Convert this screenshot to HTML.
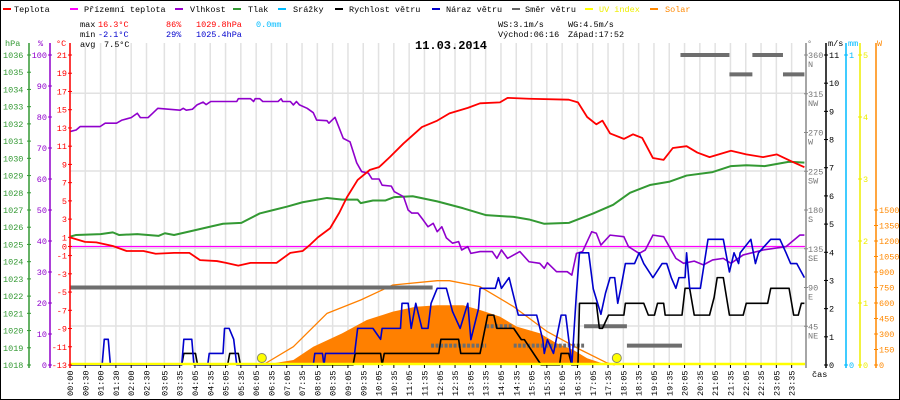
<!DOCTYPE html>
<html><head><meta charset="utf-8"><style>
html,body{margin:0;padding:0;background:#fff}
svg{display:block;font-family:"Liberation Mono",monospace;font-size:8.5px}
</style></head><body>
<svg id="c" width="900" height="400" viewBox="0 0 900 400">
<rect x="0.5" y="0.5" width="899" height="399" fill="#fff" stroke="#000"/>
<g id="grid"></g>
<g id="series"></g>
<g id="axes"></g>
<g>
 <rect x="3" y="8" width="8" height="2" fill="#f00"/><text x="14" y="12">Teplota</text>
 <rect x="70" y="8" width="8" height="2" fill="#f0f"/><text x="84" y="12">Přízemní teplota</text>
 <rect x="175" y="8" width="8" height="2" fill="#90c"/><text x="190" y="12">Vlhkost</text>
 <rect x="233" y="8" width="8" height="2" fill="#393"/><text x="248" y="12">Tlak</text>
 <rect x="278" y="8" width="8" height="2" fill="#0bf"/><text x="293" y="12">Srážky</text>
 <rect x="335" y="8" width="8" height="2" fill="#000"/><text x="349" y="12">Rychlost větru</text>
 <rect x="432" y="8" width="8" height="2" fill="#00c"/><text x="446" y="12">Náraz větru</text>
 <rect x="512" y="8" width="8" height="2" fill="#666"/><text x="525" y="12">Směr větru</text>
 <rect x="585" y="8" width="8" height="2" fill="#ff0"/><text x="599" y="12" fill="#ee0">UV index</text>
 <rect x="650" y="8" width="8" height="2" fill="#f80"/><text x="665" y="12" fill="#f80">Solar</text>
</g>
<g>
 <text x="80" y="27">max</text><text x="98" y="27" fill="#f00">16.3°C</text><text x="166" y="27" fill="#f00">86%</text><text x="196" y="27" fill="#f00">1029.8hPa</text><text x="256" y="27" fill="#0bf">0.0mm</text>
 <text x="80" y="37">min</text><text x="98" y="37" fill="#00c">-2.1°C</text><text x="166" y="37" fill="#00c">29%</text><text x="196" y="37" fill="#00c">1025.4hPa</text>
 <text x="80" y="47">avg</text><text x="104" y="47">7.5°C</text>
 <text x="498" y="27">WS:3.1m/s</text><text x="568" y="27">WG:4.5m/s</text>
 <text x="498" y="37">Východ:06:16</text><text x="568" y="37">Západ:17:52</text>
 <text x="415" y="49" font-size="12" font-weight="bold">11.03.2014</text>
</g>
</svg>
<script>
const tT=[0,0.49,0.86,1.4,1.85,2.4,2.8,3.4,3.9,4.25,4.8,5.1,5.5,5.9,6.75,7.2,7.6,7.85,8.1,8.5,8.8,9.05,9.4,9.8,10.1,10.45,10.9,11.5,12.0,12.4,13.0,13.4,14.05,14.3,15.0,16.3,16.6,16.9,17.2,17.4,17.65,18.1,18.4,18.7,19.05,19.4,19.7,20.15,20.5,20.9,21.6,22.1,22.65,23.1,23.6,24];
const vT=[1.0,0.5,0.45,0.05,-0.5,-0.5,-0.8,-0.7,-0.7,-1.5,-1.6,-1.8,-2.1,-1.8,-1.8,-0.7,-0.5,0.2,1.0,2.0,3.7,5.4,7.3,8.4,8.7,9.8,11.3,13.1,13.8,14.6,15.2,15.7,15.8,16.3,16.2,16.1,15.8,14.2,13.4,13.8,12.4,11.8,12.3,11.9,9.7,9.5,10.8,11.0,10.3,9.8,10.5,10.1,9.8,10.1,9.3,8.7];
const tH=[0,0.2,0.33,0.98,1.15,1.52,1.7,2.0,2.2,2.3,2.55,2.7,2.87,3.6,3.7,3.8,4.0,4.15,4.35,4.45,4.6,5.45,5.5,5.9,6.0,6.05,6.2,6.3,6.8,6.9,6.95,7.2,7.3,7.4,7.5,7.75,7.95,8.06,8.4,8.46,8.66,8.76,8.93,9.15,9.37,9.53,9.75,9.87,10.1,10.2,10.5,10.6,10.9,11.05,11.17,11.37,11.54,11.7,11.87,12.0,12.15,12.3,12.5,12.7,12.8,13.0,13.1,13.4,13.8,13.95,14.1,14.3,14.7,15.0,15.35,15.5,15.6,15.9,16.25,16.4,16.55,16.75,17.05,17.2,17.35,17.65,18.1,18.25,18.6,18.8,19.05,19.4,19.8,20.05,20.4,20.7,21.0,21.35,21.6,22.0,22.65,23.4,23.85,24];
const vH=[75.3,75.8,76.9,76.9,78,78,79,79.8,81.2,79.8,79.8,81.2,82.8,82.2,82.8,82.2,82.5,83.9,84.8,84,85,85,85.9,85.9,85,85.9,85.9,85,85,85.9,85,85,83.9,85,83.9,82.8,81.4,79,78.8,78,79.9,77.4,73.1,72,65.2,62.4,61.9,60,60,58,57.7,55.9,54.3,50,49,49,46.8,44.6,45.7,43,44.6,41,39.3,39.8,37.1,38.2,36,36.6,36.6,34.4,37.1,34.4,36.6,33.3,32.8,31.2,33,30.1,30.1,29,36,36.6,43,42.5,38.7,41.9,41.4,38.2,36,37.1,41.9,41.4,34.4,32.8,33.5,32.3,33.9,34.4,32.8,35.5,37.1,38.2,41.9,41.9];
const tP=[0,0.2,1,1.4,1.6,2.2,2.9,3.1,3.4,3.9,4.5,5.0,5.6,6.2,6.65,7.1,7.6,8.4,8.9,9.4,9.5,9.9,10.3,10.6,11.2,12,12.85,13.6,14.5,15.0,15.5,16.3,17.1,17.75,18.3,18.95,19.6,20.15,21.0,21.6,22.1,22.7,23.5,24];
const vP=[1025.45,1025.55,1025.6,1025.7,1025.55,1025.6,1025.5,1025.65,1025.55,1025.75,1026.0,1026.2,1026.25,1026.8,1027.0,1027.2,1027.45,1027.7,1027.6,1027.6,1027.4,1027.55,1027.55,1027.75,1027.8,1027.5,1027.1,1026.7,1026.6,1026.45,1026.2,1026.25,1026.8,1027.3,1028.0,1028.45,1028.65,1029.0,1029.2,1029.55,1029.6,1029.55,1029.8,1029.75];
const tW=[0,3.65,3.72,4.1,4.17,5.15,5.22,5.5,5.57,9.25,9.32,10.15,10.2,10.27,12.05,12.12,12.7,12.77,13.4,13.65,13.85,13.95,14.4,14.5,14.75,14.85,15.4,15.5,16.0,16.05,16.3,16.4,16.6,16.65,17.2,17.3,17.4,17.6,18.1,18.15,18.75,18.9,19.1,19.2,19.4,19.45,20.0,20.1,20.25,20.4,20.9,21.05,21.15,21.35,21.55,22.0,22.1,22.8,22.9,23.5,23.65,23.8,23.9,24];
const vW=[0,0,0.41,0.41,0,0,0.41,0.41,0,0,0.41,0.41,0,0.41,0.41,0.91,0.91,0.41,0.41,1.77,1.77,1.3,1.3,1.3,0.9,0.9,0,0,0,0.41,0.41,0,0,2.19,2.19,1.3,1.3,1.77,1.77,2.19,2.19,1.77,1.77,2.19,2.19,1.77,1.77,2.72,2.72,1.77,1.77,2.4,3.1,3.1,1.77,1.77,2.19,2.19,2.72,2.72,1.77,1.77,2.19,2.19];
const tG=[0,1.05,1.12,1.25,1.32,3.65,3.72,3.98,4.05,4.5,4.55,5.0,5.05,5.2,5.35,5.45,7.95,8.0,8.25,8.3,8.35,9.3,9.4,9.9,10.15,10.2,10.8,10.85,11.05,11.15,11.3,11.5,11.7,11.8,12.0,12.3,12.5,12.75,13.0,13.1,13.35,13.4,13.9,14.0,14.1,14.35,14.65,15.25,15.45,15.5,15.6,15.8,16.05,16.2,16.4,16.55,16.65,16.95,17.1,17.35,17.5,17.65,17.8,17.9,18.0,18.15,18.45,18.6,18.75,19.05,19.35,19.5,19.65,19.8,19.9,20.1,20.15,20.25,20.6,20.85,21.35,21.55,21.7,21.85,21.9,22.25,22.4,22.5,22.9,23.2,23.4,23.55,23.75,24];
const vG=[0,0,0.91,0.91,0,0,0.91,0.91,0,0,0.41,0.41,1.3,1.3,0.91,0,0,0.41,0.41,0,0.41,0.41,1.3,1.3,0.91,1.3,1.3,2.19,2.19,1.3,2.19,1.3,1.3,2.19,2.72,2.72,1.9,1.3,2.19,0.9,2.0,2.72,2.72,3.1,2.72,3.1,1.77,1.77,0.9,0.41,0.9,0.41,1.77,1.77,0,2.55,3.98,3.98,2.7,1.8,2.55,3.1,3.1,2.19,2.72,3.6,3.6,3.98,3.6,3.1,3.6,3.6,3.1,2.72,3.1,3.1,3.98,2.72,2.72,4.46,4.46,3.3,3.98,3.6,3.98,4.46,3.6,3.98,4.46,4.46,3.98,3.6,3.6,3.1];
const dirStart=[0,11.8,13.6,14.5,16.8,18.2,19.95,21.55,22.3,23.3];
const dirEnd=[11.85,13.6,14.45,16.8,18.2,20.0,21.55,22.3,23.3,24];
const dirVal=[90,22.5,45,22.5,45,22.5,360,337.5,360,337.5];
const dirDashed=[0,1,1,1,0,0,0,0,0,0];
const tS=[6.3,7.3,7.95,8.9,9.7,10.55,11.3,12,12.85,13.4,14.05,14.6,15.35,15.9,16.45,16.9,17.4,17.6];
const vS=[0,48,177,307,435,516,564,578,578,532,468,371,307,210,145,65,16,0];
const tC=[6.3,7.3,8.4,9.5,10.55,12,12.4,13.4,14.5,15.6,16.7,17.55,17.8];
const vC=[0,177,500,629,774,816,816,758,564,322,145,20,0];
const sunTimes=[6.27,17.87];
const timeLabels=["00:00","00:30","01:00","01:30","02:00","02:30"];
for(let m=3*60+5;m<=23*60+35;m+=30){timeLabels.push(String(Math.floor(m/60)).padStart(2,'0')+":"+String(m%60).padStart(2,'0'));}
const hpaTicks=[1018,1019,1020,1021,1022,1023,1024,1025,1026,1027,1028,1029,1030,1031,1032,1033,1034,1035,1036];
const humTicks=[0,10,20,30,40,50,60,70,80,90,100];
const tempTicks=[-13,-11,-9,-7,-5,-3,-1,0,1,3,5,7,9,11,13,15,17,19,21];
const dirTicks=[45,90,135,180,225,270,315,360];
const dirNames=["NE","E","SE","S","SW","W","NW","N"];
const wsTicks=[0,1,2,3,4,5,6,7,8,9,10,11];
const uvTicks=[0,1,2,3,4,5];
const solTicks=[0,150,300,450,600,750,900,1050,1200,1350,1500];

const X0=70,X1=805,Y0=55,Y1=365,H=Y1-Y0;
const xT=t=>X0+t*30.6;
const yTemp=v=>Y1-(v+13)*H/34;
const yHum=v=>Y1-v*H/100;
const yPr=v=>Y1-(v-1018)*H/18;
const yWs=v=>Y1-v*H/11;
const yDir=v=>Y1-v*H/360;
const yUv=v=>Y1-v*H/5;
const ySol=v=>Y1-v*155/1500;
const NS="http://www.w3.org/2000/svg";
function mk(tag,attrs,parent,txt){const e=document.createElementNS(NS,tag);for(const k in attrs)e.setAttribute(k,attrs[k]);if(txt!==undefined)e.textContent=txt;parent.appendChild(e);return e;}
const grid=document.getElementById('grid'),ser=document.getElementById('series'),ax=document.getElementById('axes');

// grid
[93.3,171,248.3,326].forEach(y=>{const l=mk('line',{x1:X0,x2:X1,y1:y,y2:y,stroke:'#e2e2e2','stroke-width':1.5},grid);

});
timeLabels.forEach(s=>{const [h,m]=s.split(':').map(Number);const x=xT(h+m/60);
const l=mk('line',{x1:x,x2:x,y1:Y0-12,y2:Y1,stroke:'#e2e2e2','stroke-width':1.5},grid);


mk('line',{x1:x,x2:x,y1:Y1,y2:Y1+3,stroke:'#000'},ax);
const t=mk('text',{x:x+3,y:396,transform:`rotate(-90 ${x+3} 396)`},ax,s);

});

// solar fill & clear-sky
let d='M'+xT(tS[0])+','+Y1;tS.forEach((t,i)=>d+=' L'+xT(t)+','+ySol(vS[i]));d+=' L'+xT(tS[tS.length-1])+','+Y1+'Z';
const sf=mk('path',{d:d,fill:'#ff8000'},ser);


function line(ts,vs,fy,col,w,name){const p=mk('polyline',{points:ts.map((t,i)=>xT(t)+','+fy(vs[i])).join(' '),fill:'none',stroke:col,'stroke-width':w,'stroke-linejoin':'round'},ser);

return p;}
line(tC,vC,ySol,'#ff8000',1.3,'solar-clear-sky-line');
// zero line
const z=mk('line',{x1:X0,x2:X1,y1:yTemp(0),y2:yTemp(0),stroke:'#f0f','stroke-width':1.3},ser);


// direction
dirVal.forEach((v,i)=>{const y=yDir(v);const l=mk('line',{x1:xT(dirStart[i]),x2:xT(dirEnd[i]),y1:y,y2:y,stroke:'#6e6e6e','stroke-width':4},ser);
if(dirDashed[i])l.setAttribute('stroke-dasharray','3,1.5');

});
line(tP,vP,yPr,'#339933',2,'pressure-line');
line(tH,vH,yHum,'#9000cc',1.6,'humidity-line');
line(tT,vT,yTemp,'#ff0000',1.8,'temperature-line');
line(tW,vW,yWs,'#000',1.6,'wind-speed-line');
line(tG,vG,yWs,'#0000cc',1.6,'wind-gust-line');
const uv=mk('line',{x1:X0,x2:X1,y1:Y1-1,y2:Y1-1,stroke:'#ff0','stroke-width':2.5},ser);


sunTimes.forEach(t=>{const c=mk('circle',{cx:xT(t),cy:358,r:4.5,fill:'#ff0',stroke:'#886','stroke-width':1},ser);

});

// axes
function vaxis(x,col,name,y0=Y0-12){const l=mk('line',{x1:x,x2:x,y1:y0,y2:Y1+3,stroke:col,'stroke-width':1.5},ax);

}
vaxis(29,'#339933','pressure-axis');vaxis(50,'#9000cc','humidity-axis');vaxis(70,'#ff0000','temperature-axis');
vaxis(806,'#888','direction-axis');vaxis(826,'#000','wind-speed-axis');vaxis(846,'#0bf','rain-axis');vaxis(860,'#ee0','uv-axis');vaxis(876,'#f80','solar-axis');
function ticks(vals,fy,x,col,side,labels){vals.forEach((v,i)=>{const y=fy(v);mk('line',{x1:x-2,x2:x+2,y1:y,y2:y,stroke:col},ax);
const t=side<0?mk('text',{x:x-3,y:y+3,'text-anchor':'end',fill:col},ax,labels?labels[i]:v):mk('text',{x:x+3,y:y+3,fill:col},ax,labels?labels[i]:v);

});}
hpaTicks.forEach(v=>{const y=yPr(v);mk('line',{x1:27,x2:31,y1:y,y2:y,stroke:'#339933'},ax);
const t=mk('text',{x:3,y:y+3,fill:'#339933'},ax,v);

});
ticks(humTicks,yHum,50,'#9000cc',-1);
ticks(tempTicks,yTemp,70,'#ff0000',-1);
ticks(wsTicks,yWs,826,'#000',1);
ticks(uvTicks,yUv,860,'#ee0',1);
ticks(solTicks,ySol,876,'#f80',1);
ticks([0,1],v=>Y1-v*H,846,'#0bf',1);
dirTicks.forEach((v,i)=>{const y=yDir(v);mk('line',{x1:804,x2:808,y1:y,y2:y,stroke:'#888'},ax);
const t=mk('text',{x:808,y:y+3,fill:'#777'},ax,v);


const n=mk('text',{x:808,y:y+12,fill:'#777'},ax,dirNames[i]);

});
[[5,'hPa','#339933'],[38,'%','#9000cc'],[56,'°C','#f00'],[807,'°','#777'],[828,'m/s','#000'],[848,'mm','#0bf'],[877,'W','#f80'],[812,'čas','#000',377]].forEach(a=>{
const t=mk('text',{x:a[0],y:a[3]||46,fill:a[2]},ax,a[1]);

});
</script>
</body></html>
